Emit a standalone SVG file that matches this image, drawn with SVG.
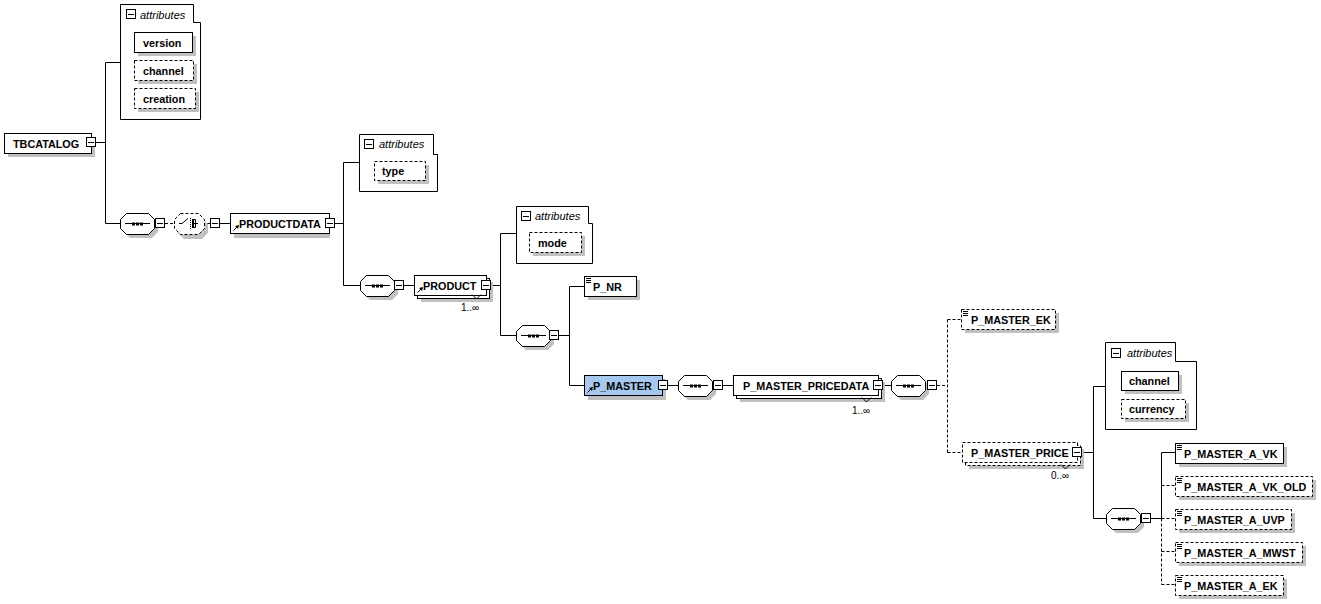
<svg xmlns="http://www.w3.org/2000/svg" xmlns:xlink="http://www.w3.org/1999/xlink" width="1321" height="604" viewBox="0 0 1321 604">
<style>
.bx{fill:#fff;stroke:#000;stroke-width:1}
.ds{stroke-dasharray:3,2}
.sh{fill:#c0c0c0;stroke:none}
.ln{fill:none;stroke:#000;stroke-width:1}
.t{font-family:"Liberation Sans",Arial,sans-serif;font-weight:bold;font-size:10.8px;fill:#000}
.at{font-family:"Liberation Sans",Arial,sans-serif;font-style:italic;font-size:11px;fill:#000}
.oc{font-family:"Liberation Sans",Arial,sans-serif;font-size:10px;fill:#000}
.sel{fill:#a6c8ef}
</style>
<defs>
<g id="col"><rect x="0.5" y="0.5" width="9" height="9" fill="#fff" stroke="#000"/><path d="M2 5.5H8" stroke="#000"/></g>
<g id="seq">
<path class="sh" d="M10,-6H32L38,0V9L32,15H10L4,9V0Z"/>
<path class="bx" d="M6.5,-9.5H28.5L34.5,-3.5V5.5L28.5,11.5H6.5L0.5,5.5V-3.5Z"/>
<path class="ln" d="M5,0.5H30"/>
<rect x="12" y="-0.5" width="3" height="3" fill="#000"/><rect x="16" y="-0.5" width="3" height="3" fill="#000"/><rect x="20" y="-0.5" width="3" height="3" fill="#000"/>
</g>
<g id="txt"><path class="ln" d="M2 2.5H7M2 4.5H7M2 6.5H7"/></g>
<g id="ref"><path class="ln" d="M0.5 0.5L4.5 -3.5"/><path d="M6 -5L2 -4L5 -1Z" fill="#000"/></g>
</defs>

<g id="connectors">
<path class="ln" d="M96 142.5H105.5M105.5 62.5V223.5M105.5 62.5H120M105.5 223.5H120"/>
<path class="ln ds" d="M165 223.5H174"/>
<path class="ln" d="M204 223.5H210M220 223.5H230"/>
<path class="ln" d="M334 223.5H343.5M343.5 162.5V285.5M343.5 162.5H359M343.5 285.5H360"/>
<path class="ln" d="M404 285.5H414M491 285.5H500.5M500.5 233.5V335.5M500.5 233.5H516M500.5 335.5H516"/>
<path class="ln" d="M559 335.5H569.5M569.5 286.5V385.5M569.5 286.5H584M569.5 385.5H584"/>
<path class="ln" d="M668 385.5H678M723 385.5H733M883 385.5H891"/>
<path class="ln ds" d="M937 385.5H947.5M947.5 319.5V452.5M947.5 319.5H961M947.5 452.5H962"/>
<path class="ln" d="M1082 452.5H1093.5M1093.5 386.5V518.5M1093.5 386.5H1105M1093.5 518.5H1106"/>
<path class="ln" d="M1151 518.5H1161.5M1161.5 452.5V518.5M1161.5 452.5H1175"/>
<path class="ln ds" d="M1161.5 518.5V584.5M1161.5 485.5H1175M1161.5 518.5H1175M1161.5 551.5H1175M1161.5 584.5H1175"/>
</g>

<g id="TBCATALOG">
<rect class="sh" x="8" y="137" width="87" height="20"/>
<rect class="bx" x="4.5" y="133.5" width="87" height="20"/>
<text class="t" x="13" y="147.5">TBCATALOG</text>
<use xlink:href="#col" x="86" y="137"/>
</g>

<g id="TBCATALOG_attributes">
<path class="bx" d="M120.5 4.5H193.5V22.5H200.5V119.5H120.5Z"/>
<use xlink:href="#col" x="126" y="9"/>
<text class="at" x="140" y="19">attributes</text>
<rect class="sh" x="138" y="36" width="58" height="20"/>
<rect class="bx" x="134.5" y="32.5" width="58" height="20"/>
<text class="t" x="143" y="46.5">version</text>
<rect class="sh" x="138" y="64" width="59" height="20"/>
<rect class="bx ds" x="134.5" y="60.5" width="59" height="20"/>
<text class="t" x="143" y="74.5">channel</text>
<rect class="sh" x="138" y="92" width="61" height="20"/>
<rect class="bx ds" x="134.5" y="88.5" width="61" height="20"/>
<text class="t" x="143" y="102.5">creation</text>
</g>

<g id="seq1">
<use xlink:href="#seq" x="120" y="223"/>
<use xlink:href="#col" x="155" y="218"/>
</g>

<g id="choice1">
<path class="sh" d="M184,218H202L208,224V233L202,239H184L178,233V224Z"/>
<path class="bx ds" d="M180.5,213.5H198.5L204.5,219.5V228.5L198.5,234.5H180.5L174.5,228.5V219.5Z"/>
<path class="ln" d="M179 223.5H182M182 223.5L188 218.5"/>
<path class="ln" d="M190.5 218V229" stroke-dasharray="1,1"/>
<path class="ln" d="M192.5 219.5H195.5V227.5H192.5M192.5 223.5H198"/>
<rect x="192" y="219" width="2" height="9" fill="#000"/>
<use xlink:href="#col" x="210" y="218"/>
</g>

<g id="PRODUCTDATA">
<rect class="sh" x="234" y="217" width="96" height="21"/>
<rect class="bx" x="230.5" y="213.5" width="99" height="20"/>
<text class="t" x="239" y="227.5">PRODUCTDATA</text>
<use xlink:href="#ref" x="233" y="230"/>
<use xlink:href="#col" x="325" y="218"/>
</g>

<g id="PRODUCTDATA_attributes">
<path class="bx" d="M359.5 134.5H433.5V154.5H437.5V191.5H359.5Z"/>
<use xlink:href="#col" x="364" y="139"/>
<text class="at" x="379" y="148">attributes</text>
<rect class="sh" x="378" y="165" width="51" height="19"/>
<rect class="bx ds" x="374.5" y="161.5" width="51" height="19"/>
<text class="t" x="382" y="175">type</text>
</g>

<g id="seq2">
<use xlink:href="#seq" x="360" y="285"/>
<use xlink:href="#col" x="394" y="280"/>
</g>

<g id="PRODUCT">
<rect class="sh" x="421" y="282" width="72" height="20"/>
<rect class="bx" x="417.5" y="278.5" width="72" height="20"/>
<rect class="bx" x="414.5" y="275.5" width="72" height="20"/>
<text class="t" x="423" y="289.5">PRODUCT</text>
<use xlink:href="#ref" x="417" y="292"/>
<use xlink:href="#col" x="481" y="280"/>
<path class="ln" d="M472 294.5L476.5 299L481 294.5"/>
<text class="oc" x="461" y="311">1..∞</text>
</g>

<g id="PRODUCT_attributes">
<path class="bx" d="M516.5 206.5H588.5V223.5H592.5V263.5H516.5Z"/>
<use xlink:href="#col" x="521" y="211"/>
<text class="at" x="535" y="220">attributes</text>
<rect class="sh" x="533" y="236" width="52" height="20"/>
<rect class="bx ds" x="529.5" y="232.5" width="52" height="20"/>
<text class="t" x="538" y="246.5">mode</text>
</g>

<g id="seq3">
<use xlink:href="#seq" x="516" y="335"/>
<use xlink:href="#col" x="549" y="330"/>
</g>

<g id="P_NR">
<rect class="sh" x="588" y="280" width="52" height="20"/>
<rect class="bx" x="584.5" y="276.5" width="52" height="20"/>
<use xlink:href="#txt" x="584" y="276"/>
<text class="t" x="593" y="290.5">P_NR</text>
</g>

<g id="P_MASTER">
<rect class="sh" x="588" y="379" width="78" height="21"/>
<rect class="bx sel" x="584.5" y="375.5" width="78" height="20"/>
<text class="t" x="593" y="389.5">P_MASTER</text>
<use xlink:href="#ref" x="587" y="392"/>
<use xlink:href="#col" x="658" y="380"/>
</g>

<g id="seq4">
<use xlink:href="#seq" x="678" y="385"/>
<use xlink:href="#col" x="713" y="380"/>
</g>

<g id="P_MASTER_PRICEDATA">
<rect class="sh" x="740" y="382" width="145" height="20"/>
<rect class="bx" x="736.5" y="378.5" width="145" height="20"/>
<rect class="bx" x="733.5" y="375.5" width="145" height="20"/>
<text class="t" x="743" y="389.5">P_MASTER_PRICEDATA</text>
<use xlink:href="#col" x="873" y="380"/>
<path class="ln" d="M862 397.5L866.5 402L871 397.5"/>
<text class="oc" x="852" y="414">1..∞</text>
</g>

<g id="seq5">
<use xlink:href="#seq" x="891" y="385"/>
<use xlink:href="#col" x="927" y="380"/>
</g>

<g id="P_MASTER_EK">
<rect class="sh" x="965" y="313" width="94" height="20"/>
<rect class="bx ds" x="961.5" y="309.5" width="94" height="20"/>
<use xlink:href="#txt" x="961" y="309"/>
<text class="t" x="971" y="323.5">P_MASTER_EK</text>
</g>

<g id="P_MASTER_PRICE">
<rect class="sh" x="969" y="449" width="115" height="20"/>
<rect class="bx ds" x="965.5" y="445.5" width="115" height="20"/>
<rect class="bx ds" x="962.5" y="442.5" width="115" height="20"/>
<text class="t" x="971" y="456.5">P_MASTER_PRICE</text>
<use xlink:href="#col" x="1072" y="447"/>
<path class="ln" d="M1061 464.5L1065.5 469L1070 464.5"/>
<text class="oc" x="1051" y="479">0..∞</text>
</g>

<g id="P_MASTER_PRICE_attributes">
<path class="bx" d="M1105.5 342.5H1175.5V361.5H1196.5V429.5H1105.5Z"/>
<use xlink:href="#col" x="1111" y="348"/>
<text class="at" x="1127" y="357">attributes</text>
<rect class="sh" x="1125" y="375" width="57" height="19"/>
<rect class="bx" x="1121.5" y="371.5" width="57" height="19"/>
<text class="t" x="1129" y="385">channel</text>
<rect class="sh" x="1125" y="403" width="64" height="19"/>
<rect class="bx ds" x="1121.5" y="399.5" width="64" height="19"/>
<text class="t" x="1129" y="413">currency</text>
</g>

<g id="seq6">
<use xlink:href="#seq" x="1106" y="518"/>
<use xlink:href="#col" x="1141" y="513"/>
</g>

<g id="P_MASTER_A_VK">
<rect class="sh" x="1179" y="447" width="108" height="20"/>
<rect class="bx" x="1175.5" y="443.5" width="108" height="20"/>
<use xlink:href="#txt" x="1175" y="443"/>
<text class="t" x="1184" y="457.5">P_MASTER_A_VK</text>
</g>

<g id="P_MASTER_A_VK_OLD">
<rect class="sh" x="1179" y="480" width="137" height="20"/>
<rect class="bx ds" x="1175.5" y="476.5" width="137" height="20"/>
<use xlink:href="#txt" x="1175" y="476"/>
<text class="t" x="1184" y="490.5">P_MASTER_A_VK_OLD</text>
</g>

<g id="P_MASTER_A_UVP">
<rect class="sh" x="1179" y="513" width="116" height="20"/>
<rect class="bx ds" x="1175.5" y="509.5" width="116" height="20"/>
<use xlink:href="#txt" x="1175" y="509"/>
<text class="t" x="1184" y="523.5">P_MASTER_A_UVP</text>
</g>

<g id="P_MASTER_A_MWST">
<rect class="sh" x="1179" y="546" width="127" height="20"/>
<rect class="bx ds" x="1175.5" y="542.5" width="127" height="20"/>
<use xlink:href="#txt" x="1175" y="542"/>
<text class="t" x="1184" y="556.5">P_MASTER_A_MWST</text>
</g>

<g id="P_MASTER_A_EK">
<rect class="sh" x="1179" y="579" width="108" height="20"/>
<rect class="bx ds" x="1175.5" y="575.5" width="108" height="20"/>
<use xlink:href="#txt" x="1175" y="575"/>
<text class="t" x="1184" y="589.5">P_MASTER_A_EK</text>
</g>
</svg>
